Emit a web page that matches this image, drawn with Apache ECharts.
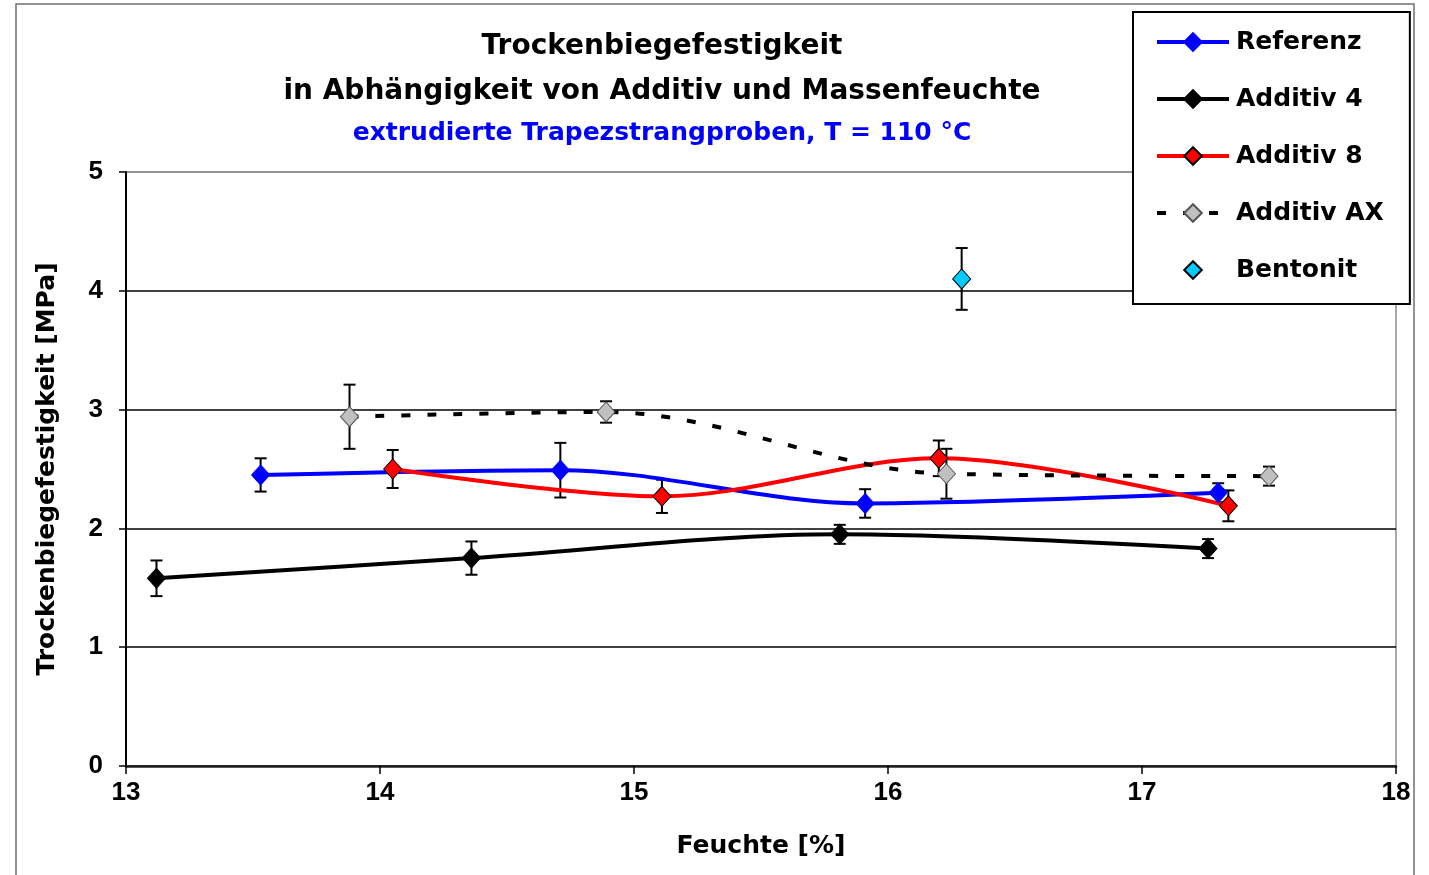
<!DOCTYPE html>
<html>
<head>
<meta charset="utf-8">
<script src="https://cdn.jsdelivr.net/npm/echarts@6/dist/echarts.min.js"></script>
<style>
html,body{margin:0;padding:0;background:#fff;}
#chart{width:1429px;height:875px;}
</style>
</head>
<body>
<div id="chart"></div>
<script>
// ---- data ----
var xTicks = [13, 14, 15, 16, 17, 18];
var yTicks = [0, 1, 2, 3, 4, 5];

var seriesNames = ['Referenz', 'Additiv 4', 'Additiv 8', 'Additiv AX', 'Bentonit'];

var xReferenz = [13.53, 14.71, 15.91, 17.30];
var yReferenz = [2.45, 2.49, 2.21, 2.30];
var eReferenz = [0.14, 0.23, 0.12, 0.08];

var xAdditiv4 = [13.12, 14.36, 15.81, 17.26];
var yAdditiv4 = [1.58, 1.75, 1.95, 1.83];
var eAdditiv4 = [0.15, 0.14, 0.08, 0.08];

var xAdditiv8 = [14.05, 15.11, 16.20, 17.34];
var yAdditiv8 = [2.50, 2.27, 2.59, 2.19];
var eAdditiv8 = [0.16, 0.14, 0.15, 0.13];

var xAdditivAX = [13.88, 14.89, 16.23, 17.50];
var yAdditivAX = [2.94, 2.98, 2.46, 2.44];
var eAdditivAX = [0.27, 0.09, 0.21, 0.08];

var xBentonit = [16.29];
var yBentonit = [4.10];
var eBentonit = [0.26];

// ---- build ----
function pts(xs, ys) { return xs.map(function (x, i) { return [x, ys[i]]; }); }
function errPts(xs, ys, es) { return xs.map(function (x, i) { return [x, ys[i], es[i]]; }); }

var FONT = 'DejaVu Sans';

function errorSeries(xs, ys, es) {
  return {
    type: 'custom',
    z: 1,
    silent: true,
    data: errPts(xs, ys, es),
    encode: { x: 0, y: [1] },
    renderItem: function (params, api) {
      var x = api.value(0), y = api.value(1), e = api.value(2);
      var top = api.coord([x, y + e]);
      var bot = api.coord([x, y - e]);
      var cap = 6;
      var st = { stroke: '#000', lineWidth: 2 };
      return {
        type: 'group',
        children: [
          { type: 'line', shape: { x1: top[0], y1: top[1], x2: bot[0], y2: bot[1] }, style: st },
          { type: 'line', shape: { x1: top[0] - cap, y1: top[1], x2: top[0] + cap, y2: top[1] }, style: st },
          { type: 'line', shape: { x1: bot[0] - cap, y1: bot[1], x2: bot[0] + cap, y2: bot[1] }, style: st }
        ]
      };
    }
  };
}

function lineSeries(name, xs, ys, color, fill, border, dash, noLine) {
  return {
    name: name,
    type: 'line',
    z: 3,
    smooth: 0.33,
    data: pts(xs, ys),
    symbol: 'diamond',
    symbolSize: [18, 20],
    showAllSymbol: true,
    lineStyle: noLine ? { color: color, width: 0, opacity: 0 } : { color: color, width: 4, type: dash || 'solid' },
    itemStyle: { color: fill, borderColor: border, borderWidth: 1 },
    emphasis: { disabled: true }
  };
}

var chart = echarts.init(document.getElementById('chart'), null, { renderer: 'canvas' });

var option = {
  animation: false,
  backgroundColor: '#fff',
  title: {
    text: 'Trockenbiegefestigkeit\nin Abhängigkeit von Additiv und Massenfeuchte',
    subtext: 'extrudierte Trapezstrangproben, T = 110 °C',
    left: 657,
    textAlign: 'center',
    top: 19,
    itemGap: 4,
    textStyle: { fontFamily: FONT, fontWeight: 'bold', fontSize: 28, lineHeight: 45, color: '#000' },
    subtextStyle: { fontFamily: FONT, fontWeight: 'bold', fontSize: 25, lineHeight: 30, color: '#0000FF' }
  },
  legend: {
    orient: 'vertical',
    left: 1133,
    top: 12,
    padding: [17, 26, 21, 22],
    itemGap: 31,
    itemWidth: 72,
    itemHeight: 22,
    backgroundColor: '#fff',
    borderColor: '#000',
    borderWidth: 2,
    data: seriesNames,
    lineStyle: { width: 4 },
    textStyle: { fontFamily: FONT, fontWeight: 'bold', fontSize: 25, lineHeight: 26, color: '#000', padding: [0, 0, 0, 2] }
  },
  grid: {
    left: 126, right: 33, top: 172, bottom: 109,
    show: true, borderColor: '#8c8c8c', borderWidth: 1.5, backgroundColor: 'transparent'
  },
  xAxis: {
    type: 'value',
    min: xTicks[0], max: xTicks[xTicks.length - 1], interval: 1,
    name: 'Feuchte [%]',
    nameLocation: 'middle',
    nameGap: 66,
    nameTextStyle: { fontFamily: FONT, fontWeight: 'bold', fontSize: 25, lineHeight: 28, color: '#000' },
    axisLine: { lineStyle: { color: '#222', width: 2.5 } },
    axisTick: { show: true, inside: false, length: 8, lineStyle: { color: '#000', width: 1.5 } },
    axisLabel: { margin: 14, fontFamily: 'Liberation Sans', fontWeight: 'bold', fontSize: 26, color: '#000' },
    splitLine: { show: false }
  },
  yAxis: {
    type: 'value',
    min: yTicks[0], max: yTicks[yTicks.length - 1], interval: 1,
    name: 'Trockenbiegefestigkeit [MPa]',
    nameLocation: 'middle',
    nameGap: 65,
    nameRotate: 90,
    nameTextStyle: { fontFamily: FONT, fontWeight: 'bold', fontSize: 25, lineHeight: 28, color: '#000' },
    axisLine: { show: true, lineStyle: { color: '#000', width: 2 } },
    axisTick: { show: true, inside: false, length: 7, lineStyle: { color: '#000', width: 1.5 } },
    axisLabel: { margin: 23, fontFamily: 'Liberation Sans', fontWeight: 'bold', fontSize: 26, color: '#000' },
    splitLine: { show: true, lineStyle: { color: ['#000', '#000', '#000', '#000', '#000', '#8c8c8c'], width: 1.5 } }
  },
  graphic: [
    { type: 'rect', z: -10, silent: true,
      shape: { x: 16, y: 4, width: 1398, height: 880 },
      style: { fill: 'none', stroke: '#707070', lineWidth: 1.5 } }
  ],
  series: [
    errorSeries(xReferenz, yReferenz, eReferenz),
    errorSeries(xAdditiv4, yAdditiv4, eAdditiv4),
    errorSeries(xAdditiv8, yAdditiv8, eAdditiv8),
    errorSeries(xAdditivAX, yAdditivAX, eAdditivAX),
    errorSeries(xBentonit, yBentonit, eBentonit),
    lineSeries('Referenz', xReferenz, yReferenz, '#0000FF', '#0000FF', '#0000FF'),
    lineSeries('Additiv 4', xAdditiv4, yAdditiv4, '#000000', '#000000', '#000000'),
    lineSeries('Additiv 8', xAdditiv8, yAdditiv8, '#FF0000', '#FF0000', '#000000'),
    lineSeries('Additiv AX', xAdditivAX, yAdditivAX, '#000000', '#C0C0C0', '#555555', [9, 17]),
    lineSeries('Bentonit', xBentonit, yBentonit, '#00CCFF', '#00CCFF', '#000000', null, true)
  ]
};
chart.setOption(option);
</script>
</body>
</html>
